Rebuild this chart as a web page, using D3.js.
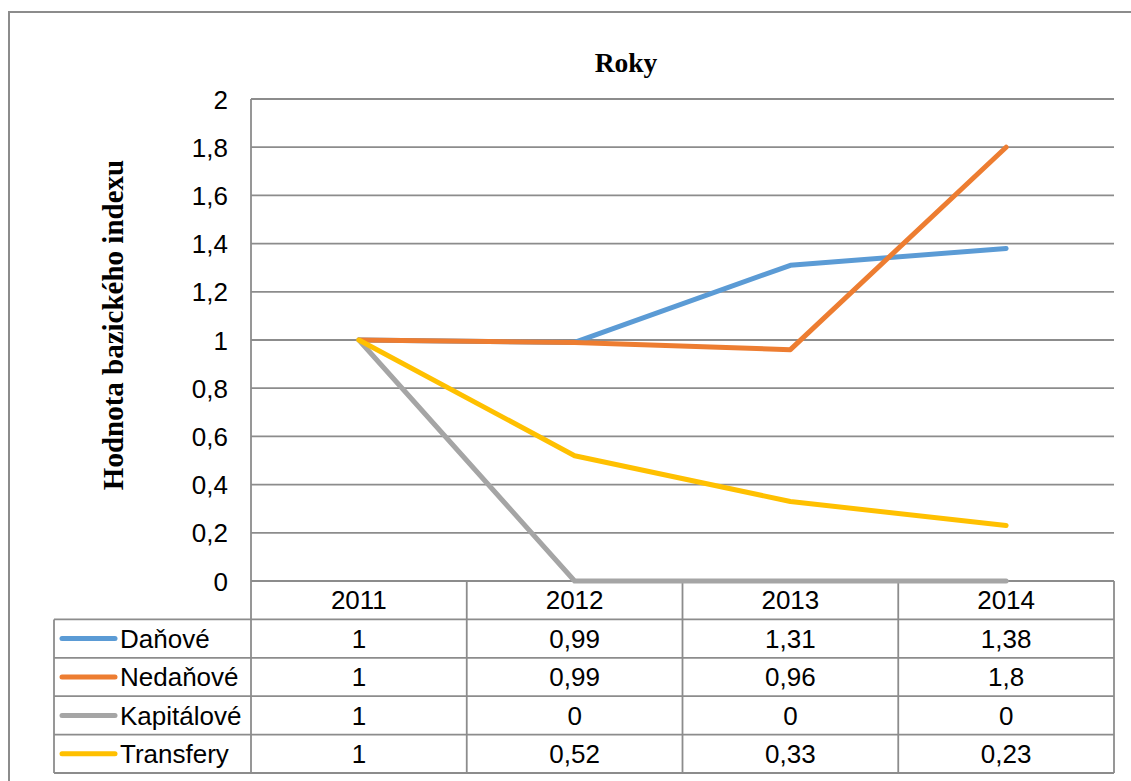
<!DOCTYPE html>
<html>
<head>
<meta charset="utf-8">
<script src="https://cdn.jsdelivr.net/npm/d3@7/dist/d3.min.js"></script>
<style>
  html, body { margin: 0; padding: 0; background: #fff; }
  svg { display: block; }
</style>
</head>
<body>
<svg id="chart" width="1131" height="781"></svg>
<script>
const categories = ["2011", "2012", "2013", "2014"];
const seriesNames = ["Daňové", "Nedaňové", "Kapitálové", "Transfery"];
const danove = [1, 0.99, 1.31, 1.38];
const nedanove = [1, 0.99, 0.96, 1.8];
const kapitalove = [1, 0, 0, 0];
const transfery = [1, 0.52, 0.33, 0.23];
const seriesColors = ["#5B9BD5", "#ED7D31", "#A5A5A5", "#FFC000"];
const yTicks = [0, 0.2, 0.4, 0.6, 0.8, 1, 1.2, 1.4, 1.6, 1.8, 2];
const titleText = "Roky";
const yLabelText = "Hodnota bazického indexu";

const series = [danove, nedanove, kapitalove, transfery].map((v, i) => ({
  name: seriesNames[i], values: v, color: seriesColors[i]
}));

const fmt = v => String(v).replace(".", ",");

const svg = d3.select("#chart");
const gridColor = "#8c8c8c";

const plot = { left: 251, right: 1114, top: 99, bottom: 581 };
const tableLeft = 54;
const rowH = 38.4;
const fs = 26;

const x = d3.scaleBand().domain(categories).range([plot.left, plot.right]);
const xc = c => x(c) + x.bandwidth() / 2;
const y = d3.scaleLinear().domain([0, 2]).range([plot.bottom, plot.top]);

// outer border
svg.append("rect")
  .attr("x", 9).attr("y", 12).attr("width", 1140).attr("height", 800)
  .attr("fill", "none").attr("stroke", gridColor).attr("stroke-width", 2);

// title
svg.append("text")
  .attr("x", 626).attr("y", 72)
  .attr("text-anchor", "middle")
  .attr("font-family", "'Liberation Serif', 'Times New Roman', serif")
  .attr("font-weight", "bold").attr("font-size", 27.5)
  .text(titleText);

// y label
svg.append("text")
  .attr("transform", `translate(123,325) rotate(-90)`)
  .attr("text-anchor", "middle")
  .attr("font-family", "'Liberation Serif', 'Times New Roman', serif")
  .attr("font-weight", "bold").attr("font-size", 29)
  .text(yLabelText);

// gridlines
svg.append("g").selectAll("line").data(yTicks).join("line")
  .attr("x1", plot.left).attr("x2", plot.right)
  .attr("y1", d => y(d)).attr("y2", d => y(d))
  .attr("stroke", gridColor).attr("stroke-width", 1.8);

// y axis via d3 axis (labels only)
const yAxis = d3.axisLeft(y).tickValues(yTicks).tickFormat(fmt).tickSize(0).tickPadding(0);
const gy = svg.append("g").attr("transform", `translate(228,0)`).call(yAxis);
gy.select(".domain").remove();
gy.selectAll("text")
  .attr("font-family", "'Liberation Sans', Arial, sans-serif")
  .attr("font-size", fs).attr("fill", "#000").attr("dy", "0.35em");

// left vertical line of plot + table
svg.append("line")
  .attr("x1", plot.left).attr("x2", plot.left)
  .attr("y1", plot.top).attr("y2", plot.bottom + rowH * 5)
  .attr("stroke", gridColor).attr("stroke-width", 1.8);

// table lines
const tableBottom = plot.bottom + rowH * 5;
const tbl = svg.append("g");
categories.forEach((c, i) => {
  const xx = x(c) + x.bandwidth();
  tbl.append("line")
    .attr("x1", xx).attr("x2", xx)
    .attr("y1", plot.bottom).attr("y2", tableBottom)
    .attr("stroke", gridColor).attr("stroke-width", 1.8);
});
tbl.append("line")
  .attr("x1", tableLeft).attr("x2", tableLeft)
  .attr("y1", plot.bottom + rowH).attr("y2", tableBottom)
  .attr("stroke", gridColor).attr("stroke-width", 1.8);
for (let r = 1; r <= 5; r++) {
  tbl.append("line")
    .attr("x1", tableLeft).attr("x2", plot.right)
    .attr("y1", plot.bottom + rowH * r).attr("y2", plot.bottom + rowH * r)
    .attr("stroke", gridColor).attr("stroke-width", 1.8);
}

const tFont = "'Liberation Sans', Arial, sans-serif";
svg.append("g").selectAll("text").data(categories).join("text")
  .attr("x", d => xc(d)).attr("y", plot.bottom + rowH / 2)
  .attr("dy", "0.35em").attr("text-anchor", "middle")
  .attr("font-family", tFont).attr("font-size", fs)
  .text(d => d);

series.forEach((s, i) => {
  const cy = plot.bottom + rowH * (i + 1) + rowH / 2;
  const g = svg.append("g");
  g.append("line")
    .attr("x1", 62).attr("x2", 115).attr("y1", cy).attr("y2", cy)
    .attr("stroke", s.color).attr("stroke-width", 5).attr("stroke-linecap", "round");
  g.append("text")
    .attr("x", 120).attr("y", cy).attr("dy", "0.35em")
    .attr("font-family", tFont).attr("font-size", fs)
    .text(s.name);
  g.selectAll("text.v").data(s.values).join("text")
    .attr("class", "v")
    .attr("x", (d, j) => xc(categories[j])).attr("y", cy)
    .attr("dy", "0.35em").attr("text-anchor", "middle")
    .attr("font-family", tFont).attr("font-size", fs)
    .text(d => fmt(d));
});

const line = d3.line().x((d, j) => xc(categories[j])).y(d => y(d));
svg.append("g").selectAll("path").data(series).join("path")
  .attr("d", d => line(d.values))
  .attr("fill", "none")
  .attr("stroke", d => d.color)
  .attr("stroke-width", 5)
  .attr("stroke-linejoin", "round")
  .attr("stroke-linecap", "round");
</script>
</body>
</html>
